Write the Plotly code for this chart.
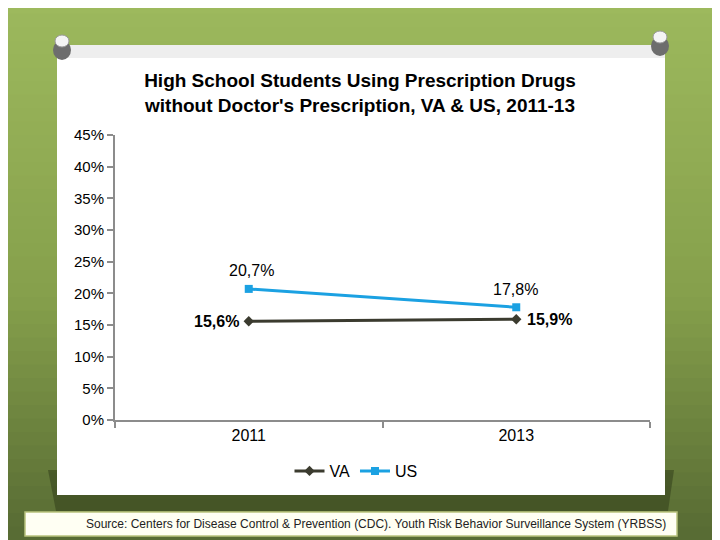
import plotly.graph_objects as go

years = ["2011", "2013"]
va = [15.6, 15.9]
us = [20.7, 17.8]
y_ticks = [0, 5, 10, 15, 20, 25, 30, 35, 40, 45]
title_lines = ["High School Students Using Prescription Drugs",
               "without Doctor's Prescription, VA & US, 2011-13"]
source = "Source: Centers for Disease Control & Prevention (CDC). Youth Risk Behavior Surveillance System (YRBSS)"

W, H = 720, 540
OFF = 8  # page offset compensation
def px(x): return (x - OFF) / W
def py(y): return 1 - (y - OFF) / H

def fmt(v):
    return f"{v:.1f}%".replace(".", ",")

fig = go.Figure()
fig.add_trace(go.Scatter(x=years, y=va, name="VA", mode="lines+markers",
                         line=dict(color="#3b3b2f", width=3),
                         marker=dict(symbol="diamond", size=8, color="#3b3b2f")))
fig.add_trace(go.Scatter(x=years, y=us, name="US", mode="lines+markers",
                         line=dict(color="#1ba1e2", width=3),
                         marker=dict(symbol="square", size=8, color="#1ba1e2")))

shapes = []
top = (157, 185, 93)
mid = (134, 160, 76)
bot = (88, 108, 52)
N = 40
for i in range(N):
    t = i / (N - 1)
    if t < 0.55:
        u = t / 0.55
        c = tuple(int(top[k] + (mid[k] - top[k]) * u) for k in range(3))
    else:
        u = (t - 0.55) / 0.45
        c = tuple(int(mid[k] + (bot[k] - mid[k]) * u) for k in range(3))
    y0 = i * H / N
    y1 = (i + 1) * H / N + 1
    shapes.append(dict(type="rect", xref="paper", yref="paper", x0=-0.05, x1=1.05,
                       y0=py(y1), y1=py(y0), line=dict(width=0),
                       fillcolor=f"rgb{c}", layer="below"))
shapes.append(dict(type="path", xref="paper", yref="paper",
                   path=f"M {px(48)},{py(470)} L {px(674)},{py(470)} L {px(668)},{py(511)} L {px(56)},{py(511)} Z",
                   fillcolor="rgba(40,50,20,0.45)", line=dict(width=0), layer="below"))
shapes.append(dict(type="rect", xref="paper", yref="paper", x0=px(57), x1=px(665),
                   y0=py(495), y1=py(45), fillcolor="white", line=dict(width=0), layer="below"))
shapes.append(dict(type="rect", xref="paper", yref="paper", x0=px(57), x1=px(665),
                   y0=py(58), y1=py(45), fillcolor="rgba(200,200,200,0.3)", line=dict(width=0), layer="below"))
shapes.append(dict(type="rect", xref="paper", yref="paper", x0=px(25), x1=px(677),
                   y0=py(536), y1=py(512), fillcolor="#fffff3",
                   line=dict(width=1.5, color="#b9c37e"), layer="below"))
for cx, cy in [(62, 48), (660, 44)]:
    shapes.append(dict(type="circle", xref="paper", yref="paper",
                       x0=px(cx - 9), x1=px(cx + 9), y0=py(cy + 12), y1=py(cy - 8),
                       fillcolor="#6d6d6d", line=dict(width=0), layer="below"))
    shapes.append(dict(type="circle", xref="paper", yref="paper",
                       x0=px(cx - 7), x1=px(cx + 7), y0=py(cy - 1), y1=py(cy - 13),
                       fillcolor="#f4f4f4", line=dict(width=1, color="#9a9a9a"), layer="below"))

annotations = []
annotations.append(dict(xref="paper", yref="paper", x=px(360), y=py(93), xanchor="center",
                        yanchor="middle", showarrow=False,
                        text="<b>" + title_lines[0] + "<br>" + title_lines[1] + "</b>",
                        font=dict(family="Liberation Sans Narrow, Arial Narrow, Liberation Sans", size=19, color="black")))
annotations.append(dict(xref="paper", yref="paper", x=px(668), y=py(524), xanchor="right",
                        yanchor="middle", showarrow=False, text=source,
                        font=dict(family="Liberation Sans Narrow, Arial Narrow, Liberation Sans", size=12, color="#222")))
lab_font = dict(family="Liberation Sans, Arial", size=16, color="black")
annotations.append(dict(x=0, y=va[0], xref="x", yref="y", text="<b>" + fmt(va[0]) + "</b>",
                        showarrow=False, xanchor="right", xshift=-8, font=lab_font))
annotations.append(dict(x=1, y=va[1], xref="x", yref="y", text="<b>" + fmt(va[1]) + "</b>",
                        showarrow=False, xanchor="left", xshift=9, font=lab_font))
annotations.append(dict(x=0, y=us[0], xref="x", yref="y", text=fmt(us[0]),
                        showarrow=False, xanchor="center", xshift=3, yshift=18, font=lab_font))
annotations.append(dict(x=1, y=us[1], xref="x", yref="y", text=fmt(us[1]),
                        showarrow=False, xanchor="center", xshift=-1, yshift=18, font=lab_font))

fig.update_layout(
    width=W, height=H, autosize=False,
    margin=dict(l=0, r=0, t=0, b=0, pad=0, autoexpand=False),
    paper_bgcolor="rgb(157,185,93)", plot_bgcolor="rgba(0,0,0,0)",
    shapes=shapes, annotations=annotations,
    showlegend=True,
    legend=dict(orientation="h", x=px(356), xanchor="center", y=py(471), yanchor="middle",
                bgcolor="rgba(0,0,0,0)", font=dict(family="Liberation Sans, Arial", size=16, color="black"),
                itemwidth=30, tracegroupgap=0),
    xaxis=dict(domain=[px(115), px(650)], range=[-0.5, 1.5], type="category",
               showline=True, linecolor="#8c8c8c", linewidth=2, showgrid=False,
               ticks="outside", tickson="boundaries", ticklen=6, tickcolor="#8c8c8c", tickwidth=2,
               tickfont=dict(family="Liberation Sans, Arial", size=16, color="black"),
               zeroline=False, automargin=False),
    yaxis=dict(domain=[py(420), py(135)], range=[0, 45], tickvals=y_ticks,
               ticktext=[f"{v}%" for v in y_ticks],
               showline=True, linecolor="#8c8c8c", linewidth=2, showgrid=False,
               ticks="outside", ticklen=6, tickcolor="#8c8c8c", tickwidth=2,
               tickfont=dict(family="Liberation Sans, Arial", size=15, color="black"),
               zeroline=False, automargin=False),
)

fig.write_html("out.html")
